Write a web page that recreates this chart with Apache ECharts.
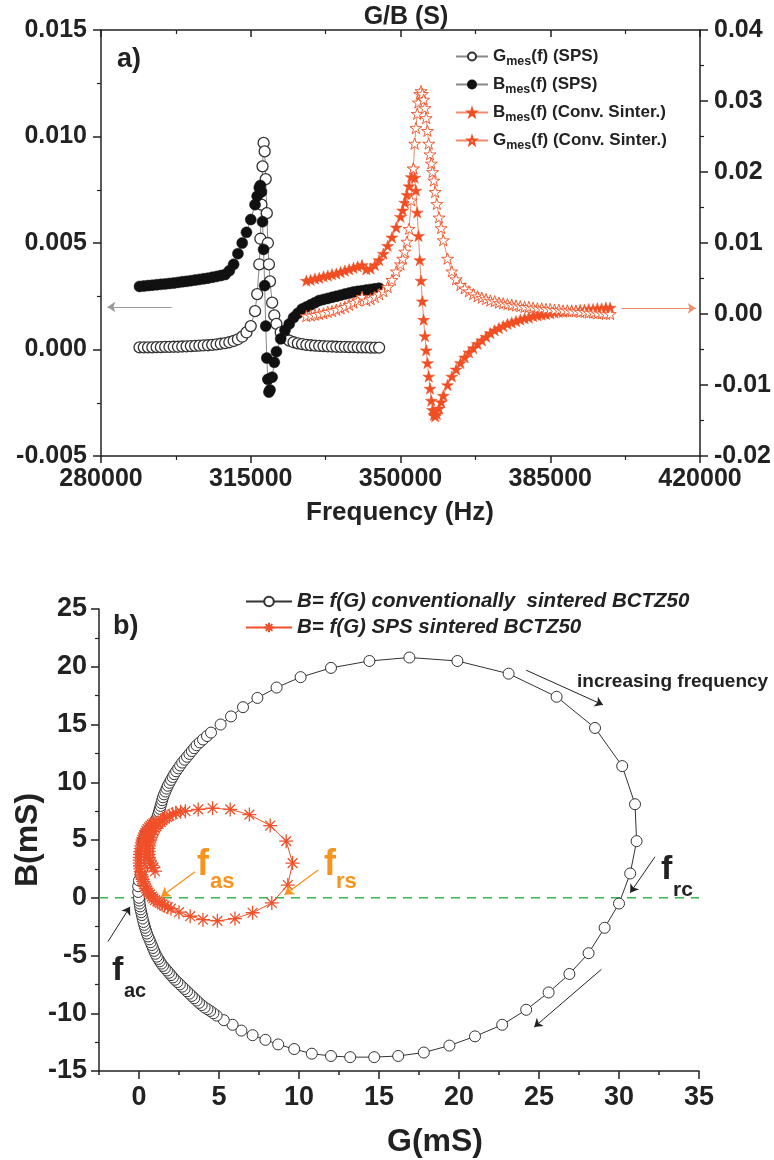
<!DOCTYPE html>
<html><head><meta charset="utf-8">
<script src="https://cdn.jsdelivr.net/npm/echarts@6/dist/echarts.min.js"></script>
<style>html,body{margin:0;padding:0;background:#fff;}#c{width:774px;height:1160px;}</style>
</head><body><div id="c"></div>
<script>
// ---------- panel a) : admittance vs frequency ----------
const spsFreq = [289000,290000,291000,292000,293000,294000,295000,296000,297000,298000,299000,300000,301000,302000,303000,304000,305000,306000,307000,308000,309000,310000,311000,312000,313000,314000,315000,316000,
  316500,317000,317250,317500,317750,318000,318250,318500,318750,319000,319250,319500,320000,320500,321000,
  322000,323000,324000,325000,326000,327000,328000,329000,330000,331000,332000,333000,334000,335000,336000,337000,338000,339000,340000,341000,342000,343000,344000,345000];
const spsG = [0.00010,0.00010,0.00010,0.00010,0.00011,0.00011,0.00012,0.00012,0.00013,0.00013,0.00014,0.00015,0.00016,0.00017,0.00018,0.00019,0.00020,0.00022,0.00024,0.00027,0.00030,0.00034,0.00040,0.00048,0.00060,0.00080,0.00110,0.00180,
  0.0026,0.0040,0.0052,0.0068,0.0086,0.0097,0.0093,0.0080,0.0064,0.0050,0.0040,0.0032,0.0022,0.0016,0.0012,
  0.00080,0.00055,0.00042,0.00034,0.00029,0.00025,0.00022,0.00020,0.00018,0.00017,0.00016,0.00015,0.00014,0.00013,0.00012,0.00012,0.00011,0.00011,0.00010,0.00010,0.00010,0.00009,0.00009,0.00009];
const spsB = [0.00296,0.00298,0.00300,0.00302,0.00304,0.00306,0.00308,0.00310,0.00312,0.00315,0.00318,0.00320,0.00323,0.00326,0.00329,0.00332,0.00335,0.00339,0.00343,0.00347,0.00352,0.0037,0.0040,0.0045,0.0050,0.0055,0.0061,0.0068,
  0.0072,0.0076,0.0077,0.0074,0.0060,0.0047,0.0030,0.0011,-0.0004,-0.0014,-0.0020,-0.0019,-0.0013,-0.0006,-0.0001,
  0.0005,0.0009,0.0012,0.0015,0.0017,0.0019,0.0020,0.0021,0.0022,0.0023,0.00235,0.0024,0.00245,0.0025,0.00255,0.0026,0.00265,0.0027,0.00273,0.00276,0.00279,0.00282,0.00285,0.00288];

const convFreq = [328000,329000,330000,331000,332000,333000,334000,335000,336000,337000,338000,339000,340000,341000,342000,343000,344000,345000,346000,347000,348000,349000,
  350000,350500,351000,351500,352000,352500,
  353000,353300,353600,353900,354200,354500,354800,355100,355400,355700,356000,356300,356600,356900,357200,357500,357800,358100,
  358500,359000,359500,360000,
  361000,362000,363000,364000,365000,366000,367000,368000,369000,370000,371000,372000,373000,374000,375000,376000,377000,378000,379000,380000,381000,382000,383000,384000,385000,386000,387000,388000,389000,390000,391000,392000,393000,394000,395000,396000,397000,398000,399000];
const convB = [0.0047,0.0048,0.0050,0.0051,0.0053,0.0054,0.0056,0.0057,0.0059,0.0061,0.0063,0.0065,0.0067,0.0069,0.0063,0.0064,0.0069,0.0076,0.0085,0.0096,0.0108,0.0122,
  0.0137,0.0146,0.0157,0.0168,0.0180,0.0193,
  0.0205,0.0192,0.0174,0.0143,0.0110,0.0076,0.0047,0.0018,-0.0008,-0.0031,-0.0051,-0.0069,-0.0088,-0.0105,-0.0122,-0.0135,-0.0142,-0.0144,
  -0.0141,-0.0133,-0.0124,-0.0115,
  -0.0100,-0.0088,-0.0078,-0.0069,-0.0061,-0.0054,-0.0048,-0.0042,-0.0037,-0.0032,-0.0027,-0.0023,-0.0020,-0.0017,-0.0014,-0.0012,-0.0010,-0.0008,-0.0006,-0.0005,-0.0003,-0.0002,-0.0001,0.0000,0.0001,0.0002,0.0003,0.0003,0.0004,0.0005,0.0005,0.0006,0.0006,0.0007,0.0007,0.0008,0.0008,0.0009,0.0009];
const convG = [-0.0003,-0.0002,-0.0001,0.0000,0.0001,0.0003,0.0004,0.0006,0.0008,0.0010,0.0013,0.0016,0.0019,0.0024,0.0019,0.0021,0.0024,0.0028,0.0032,0.0038,0.0048,0.0060,
  0.0070,0.0078,0.0088,0.0102,0.0120,0.0160,
  0.0205,0.0240,0.0262,0.0282,0.0298,0.0310,0.0314,0.0310,0.0302,0.0290,0.0276,0.0258,0.0240,0.0225,0.0212,0.0200,0.0188,0.0172,
  0.0155,0.0136,0.0121,0.0104,
  0.0078,0.0060,0.0049,0.0041,0.0036,0.0032,0.0028,0.0025,0.0023,0.0021,0.0019,0.0018,0.0016,0.0015,0.0014,0.0013,0.0012,0.0011,0.0010,0.0010,0.0009,0.0008,0.0008,0.0007,0.0007,0.0006,0.0006,0.0005,0.0005,0.0004,0.0004,0.0003,0.0003,0.0002,0.0002,0.0001,0.0001,0.0000,0.0000];

// ---------- panel b) : B = f(G) loops (mS) ----------
const loopConvG = [
  0.25,0.23,0.22,0.22,0.22,0.23,0.25,0.27,0.30,0.35,0.40,0.47,0.55,0.65,0.75,0.85,0.95,1.03,1.10,1.15,1.20,1.25,1.30,1.35,1.40,1.45,1.50,1.57,1.65,1.72,1.80,1.90,2.00,2.10,2.20,2.32,2.45,2.57,2.70,2.85,3.00,3.15,3.30,3.45,3.60,3.80,4.00,4.25,4.50,
  5.1,5.75,6.5,7.4,8.6,10.1,12.0,14.4,16.9,19.9,23.1,26.1,28.5,30.2,31.0,31.1,30.7,30.0,29.1,28.1,26.9,25.6,24.2,22.7,21.0,19.4,17.8,16.2,14.7,13.2,12.0,10.8,9.7,8.7,7.9,7.1,6.4,5.85,5.3,
  4.85,4.65,4.45,4.28,4.1,3.92,3.75,3.6,3.45,3.3,3.15,3.0,2.85,2.7,2.55,2.4,2.25,2.12,2.0,1.87,1.75,1.62,1.5,1.4,1.3,1.21,1.12,1.03,0.95,0.87,0.8,0.72,0.65,0.57,0.5,0.44,0.38,0.33,0.28,0.23,0.18,0.14,0.1,0.07,0.04,0.02,0.0,
  -0.05,-0.05,0.0,0.1,0.2];
const loopConvB = [
  3.0,3.25,3.5,3.75,4.0,4.25,4.5,4.75,5.0,5.2,5.4,5.6,5.8,5.95,6.1,6.25,6.4,6.6,6.8,7.0,7.2,7.45,7.7,7.95,8.2,8.45,8.7,8.95,9.2,9.45,9.7,9.95,10.2,10.45,10.7,10.95,11.2,11.45,11.7,11.95,12.2,12.45,12.7,12.95,13.2,13.45,13.7,14.0,14.3,
  15.0,15.7,16.5,17.3,18.2,19.1,19.9,20.5,20.8,20.5,19.4,17.4,14.7,11.4,8.1,4.9,2.1,-0.5,-2.6,-4.8,-6.6,-8.2,-9.7,-11.0,-12.0,-12.8,-13.4,-13.7,-13.8,-13.8,-13.7,-13.5,-13.1,-12.7,-12.3,-11.9,-11.5,-11.0,-10.6,
  -10.2,-10.0,-9.8,-9.65,-9.5,-9.3,-9.1,-8.9,-8.7,-8.5,-8.3,-8.1,-7.9,-7.7,-7.5,-7.3,-7.1,-6.9,-6.7,-6.5,-6.3,-6.1,-5.9,-5.7,-5.5,-5.3,-5.1,-4.85,-4.6,-4.35,-4.1,-3.85,-3.6,-3.35,-3.1,-2.85,-2.6,-2.35,-2.1,-1.8,-1.5,-1.25,-1.0,-0.75,-0.5,-0.25,0.0,
  0.5,1.0,1.5,2.0,2.5];
const loopSpsG = [
  1.0,0.9,0.8,0.72,0.66,0.62,0.6,0.6,0.6,0.62,0.65,0.7,0.75,0.82,0.9,1.0,1.1,1.22,1.35,1.47,1.6,1.75,1.9,2.1,2.3,2.6,
  2.9,3.7,4.6,5.7,6.9,8.2,9.2,9.6,9.3,8.3,7.1,6.0,4.9,4.0,3.2,
  2.5,2.0,1.8,1.6,1.45,1.3,1.15,1.0,0.9,0.8,0.7,0.6,0.52,0.45,0.38,0.32,0.27,0.22,0.18,0.14,0.11,0.08,0.06,0.05,0.05,0.05,0.06,0.08,0.11,0.14,0.18,0.22,0.27,0.33,0.4,0.46,0.54,0.62,0.71,0.8,0.9,1.0];
const loopSpsB = [
  2.3,2.6,2.8,3.0,3.25,3.5,3.75,4.0,4.25,4.5,4.75,5.0,5.25,5.5,5.75,6.0,6.2,6.4,6.55,6.7,6.85,7.0,7.1,7.25,7.35,7.45,
  7.5,7.65,7.75,7.65,7.2,6.25,4.9,3.0,1.1,-0.45,-1.3,-1.8,-2.0,-1.9,-1.6,
  -1.25,-0.95,-0.82,-0.7,-0.58,-0.45,-0.33,-0.2,-0.05,0.1,0.28,0.45,0.62,0.8,1.0,1.2,1.4,1.6,1.8,2.0,2.25,2.5,2.75,3.0,3.25,3.5,3.75,4.0,4.25,4.5,4.75,5.0,5.2,5.4,5.6,5.8,5.95,6.1,6.22,6.35,6.45,6.55];
const zeroLineG = [-2.5, 35];

const bottomXLabels = [0,5,10,15,20,25,30,35];

const topLegendText = {
  G_SPS: '{n|G}{s|mes}{n|(f) (SPS)}',
  B_SPS: '{n|B}{s|mes}{n|(f) (SPS)}',
  B_conv: '{n|B}{s|mes}{n|(f) (Conv. Sinter.)}',
  G_conv: '{n|G}{s|mes}{n|(f) (Conv. Sinter.)}'
};
const bottomLegendText = {
  loopConv: 'B= f(G) conventionally  sintered BCTZ50',
  loopSPS: 'B= f(G) SPS sintered BCTZ50'
};

const FONT = '"Liberation Sans", Arial, Helvetica, sans-serif';
const INK = '#222';
const RED = '#f04e23';
const ORANGE = '#f7941d';
const STAR = 'path://M50,0L61.8,35.1L98.9,35.1L69,56.9L80.3,91.9L50,70.4L19.7,91.9L31,56.9L1.1,35.1L38.2,35.1Z';
const ASTER = 'path://M50,0L50,100M0,50L100,50M15,15L85,85M15,85L85,15';
const pair = (xs, ys) => xs.map((x, i) => [x, ys[i]]);

function axisBase(extra) {
  const base = {
    type: 'value',
    axisLine: {show: true, onZero: false, lineStyle: {color: INK, width: 1.5}},
    axisTick: {show: true, length: 7, lineStyle: {color: INK, width: 1.5}},
    minorTick: {show: true, splitNumber: 2, length: 4, lineStyle: {color: INK, width: 1.2}},
    splitLine: {show: false},
    minorSplitLine: {show: false},
    axisLabel: {color: INK, fontFamily: FONT, fontWeight: 'bold', fontSize: 25}
  };
  for (const k in extra) {
    if (typeof extra[k] === 'object' && !Array.isArray(extra[k]) && base[k]) base[k] = Object.assign({}, base[k], extra[k]);
    else base[k] = extra[k];
  }
  return base;
}

const chart = echarts.init(document.getElementById('c'), null, {renderer: 'canvas'});

const txt = (text, x, y, size, opt) => Object.assign({
  type: 'text', x: x, y: y, silent: true,
  style: Object.assign({text: text, fontFamily: FONT, fontWeight: 'bold', fontSize: size, fill: INK, align: 'left', verticalAlign: 'middle'}, (opt && opt.style) || {})
}, (opt && opt.el) || {});

chart.setOption({
  animation: false,
  backgroundColor: '#fff',
  grid: [
    {left: 101, right: 73, top: 30, bottom: 704},
    {left: 99, right: 75, top: 609, bottom: 89}
  ],
  xAxis: [
    axisBase({gridIndex: 0, min: 280000, max: 420000, interval: 35000, position: 'bottom', axisLabel: {margin: 11, formatter: v => String(v)}}),
    axisBase({gridIndex: 0, min: 280000, max: 420000, interval: 35000, position: 'top', axisTick: {inside: true}, axisLabel: {show: false}}),
    axisBase({gridIndex: 1, min: -2.5, max: 35, interval: 2.5, position: 'bottom',
      axisTick: {length: 8, customValues: bottomXLabels},
      minorTick: {show: false},
      axisLabel: {fontSize: 27, margin: 13, customValues: bottomXLabels, formatter: v => (Math.abs(v % 5) < 1e-9 ? String(v) : '')}}),
    axisBase({gridIndex: 1, min: -2.5, max: 35, interval: 2.5, position: 'bottom', axisLine: {show: false},
      axisTick: {length: 4}, minorTick: {show: false}, axisLabel: {show: false}})
  ],
  yAxis: [
    axisBase({gridIndex: 0, min: -0.005, max: 0.015, interval: 0.005, position: 'left', axisTick: {length: 8},
      axisLabel: {margin: 14, formatter: v => v.toFixed(3)}}),
    axisBase({gridIndex: 0, min: -0.02, max: 0.04, interval: 0.01, position: 'right', axisTick: {length: 8},
      axisLabel: {margin: 14, formatter: v => v.toFixed(2)}}),
    axisBase({gridIndex: 1, min: -15, max: 25, interval: 5, position: 'left', axisTick: {length: 8},
      axisLabel: {fontSize: 27, margin: 12}})
  ],
  legend: [
    {
      data: ['G_SPS', 'B_SPS', 'B_conv', 'G_conv'], orient: 'vertical', left: 450, top: 40,
      itemWidth: 32, itemHeight: 10, itemGap: 5, selectedMode: false,
      formatter: n => topLegendText[n],
      textStyle: {rich: {
        n: {fontFamily: FONT, fontWeight: 'bold', fontSize: 17, color: INK, lineHeight: 20},
        s: {fontFamily: FONT, fontWeight: 'bold', fontSize: 12.5, color: INK, lineHeight: 12, padding: [10, 0, 0, 0]}
      }}
    },
    {
      data: ['loopConv', 'loopSPS'], orient: 'vertical', left: 240, top: 585,
      itemWidth: 46, itemHeight: 12, itemGap: 3, selectedMode: false,
      formatter: n => bottomLegendText[n],
      textStyle: {fontFamily: FONT, fontWeight: 'bold', fontStyle: 'italic', fontSize: 20.5, color: INK, lineHeight: 23}
    }
  ],
  series: [
    {
      name: 'G_SPS', type: 'line', xAxisIndex: 0, yAxisIndex: 0, data: pair(spsFreq, spsG),
      symbol: 'circle', symbolSize: 11, silent: true,
      itemStyle: {color: '#fff', borderColor: '#333', borderWidth: 1.3},
      lineStyle: {color: '#888', width: 1},
      markLine: {silent: true, symbol: ['none', 'arrow'], symbolSize: 8, label: {show: false},
        lineStyle: {color: '#999', width: 1.2, type: 'solid'},
        data: [[{coord: [296500, 0.0020]}, {coord: [281500, 0.0020]}]]}
    },
    {
      name: 'B_SPS', type: 'line', xAxisIndex: 0, yAxisIndex: 0, data: pair(spsFreq, spsB),
      symbol: 'circle', symbolSize: 11, silent: true,
      itemStyle: {color: '#111', borderColor: '#111', borderWidth: 0.5},
      lineStyle: {color: '#888', width: 1}
    },
    {
      name: 'B_conv', type: 'line', xAxisIndex: 0, yAxisIndex: 1, data: pair(convFreq, convB),
      symbol: STAR, symbolSize: 12, symbolKeepAspect: true, silent: true,
      itemStyle: {color: RED, borderColor: RED, borderWidth: 0.5},
      lineStyle: {color: '#f38a6c', width: 1}
    },
    {
      name: 'G_conv', type: 'line', xAxisIndex: 0, yAxisIndex: 1, data: pair(convFreq, convG),
      symbol: STAR, symbolSize: 12, symbolKeepAspect: true, silent: true,
      itemStyle: {color: '#fff', borderColor: RED, borderWidth: 0.9},
      lineStyle: {color: '#f38a6c', width: 1},
      markLine: {silent: true, symbol: ['none', 'arrow'], symbolSize: 8, label: {show: false},
        lineStyle: {color: '#f38a6c', width: 1.2, type: 'solid'},
        data: [[{coord: [401600, 0.0008]}, {coord: [419000, 0.0008]}]]}
    },
    {
      name: 'loopConv', type: 'line', xAxisIndex: 2, yAxisIndex: 2, data: pair(loopConvG, loopConvB),
      symbol: 'circle', symbolSize: 11, silent: true,
      itemStyle: {color: '#fff', borderColor: '#333', borderWidth: 1},
      lineStyle: {color: '#333', width: 1},
      markLine: {silent: true, symbol: ['none', 'arrow'], symbolSize: 8, label: {show: false},
        lineStyle: {color: '#222', width: 1, type: 'solid'},
        data: [
          [{coord: [24.2, 19.7]}, {coord: [29.0, 16.7]}],
          [{coord: [28.9, -6.2]}, {coord: [24.7, -11.2]}],
          [{coord: [32.25, 3.55]}, {coord: [30.7, 0.43]}],
          [{coord: [-1.94, -3.8]}, {coord: [-0.56, -0.78]}]
        ]}
    },
    {
      name: 'loopSPS', type: 'line', xAxisIndex: 2, yAxisIndex: 2, data: pair(loopSpsG, loopSpsB),
      symbol: ASTER, symbolSize: 14, symbolKeepAspect: true, silent: true,
      itemStyle: {color: '#f0502a', borderColor: '#f0502a', borderWidth: 1.3},
      lineStyle: {color: '#f0502a', width: 1},
      markLine: {silent: true, symbol: ['none', 'arrow'], symbolSize: 9, label: {show: false},
        lineStyle: {color: ORANGE, width: 1.4, type: 'solid'},
        data: [
          [{coord: [3.5, 2.25]}, {coord: [1.375, 0.09]}],
          [{coord: [11.2, 2.4]}, {coord: [9.1, 0.26]}]
        ]}
    },
    {
      name: 'zero', type: 'line', xAxisIndex: 2, yAxisIndex: 2, data: zeroLineG.map(g => [g, 0]),
      symbol: 'none', silent: true,
      lineStyle: {color: '#3cb44b', width: 1.6, type: [9, 7]}
    }
  ],
  graphic: [
    txt('G/B (S)', 406, 17, 25, {style: {align: 'center'}}),
    txt('a)', 117, 60, 27),
    txt('Frequency (Hz)', 400, 513, 26, {style: {align: 'center'}}),
    txt('b)', 113, 627, 27),
    txt('B(mS)', 28, 840, 32, {style: {align: 'center'}, el: {rotation: Math.PI / 2}}),
    txt('G(mS)', 435, 1142, 32, {style: {align: 'center'}}),
    txt('increasing frequency', 577, 682, 19),
    txt('f', 112, 971, 34),
    txt('ac', 124, 991, 20),
    txt('f', 197, 865, 36, {style: {fill: ORANGE}}),
    txt('as', 210, 882, 22, {style: {fill: ORANGE}}),
    txt('f', 324, 865, 36, {style: {fill: ORANGE}}),
    txt('rs', 336, 882, 22, {style: {fill: ORANGE}}),
    txt('f', 661, 870, 34),
    txt('rc', 673, 890, 21)
  ]
});
</script></body></html>
